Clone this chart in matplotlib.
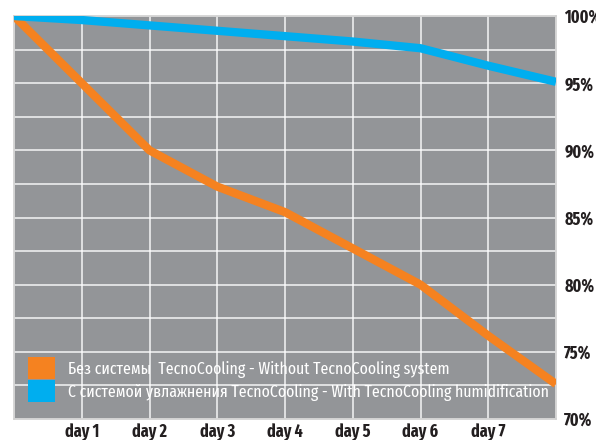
import matplotlib
matplotlib.use("Agg")
import matplotlib.pyplot as plt
from matplotlib.patches import Patch

plt.rcParams['font.family'] = ['Fira Sans Extra Condensed', 'DejaVu Sans']

# data (x = 0 is the start, 8 the end)
steps = [0, 1, 2, 3, 4, 5, 6, 7, 8]
without_tc = [100, 95.0, 90.0, 87.3, 85.4, 82.7, 80.0, 76.2, 72.6]
with_tc = [100, 99.7, 99.3, 98.9, 98.5, 98.1, 97.6, 96.3, 95.1]
day_labels = ['day 1', 'day 2', 'day 3', 'day 4', 'day 5', 'day 6', 'day 7']
pct_ticks = [70, 75, 80, 85, 90, 95, 100]
labels = ['Без системы  TecnoCooling - Without TecnoCooling system',
          'С системой увлажнения TecnoCooling - With TecnoCooling humidification']

orange = '#F58220'
blue = '#00AEEF'

fig = plt.figure(figsize=(5.96, 4.4), dpi=100)
ax = fig.add_axes([14/596, 1 - 419/440, (556 - 14)/596, (419 - 16)/440])
ax.set_facecolor('#939598')

ax.plot(steps, without_tc, color=orange, lw=6, solid_capstyle='butt', zorder=3)
ax.plot(steps, with_tc, color=blue, lw=6, solid_capstyle='butt', zorder=4)

ax.set_xlim(0, 8)
ax.set_ylim(70, 100)

# grid every step / 2.5%
ax.set_xticks(range(0, 9), minor=True)
ax.set_yticks([70 + 2.5 * i for i in range(13)], minor=True)
ax.grid(which='both', color='white', lw=1.1, alpha=0.9)
ax.set_axisbelow(True)

ax.set_xticks(range(1, 8))
ax.set_xticklabels(day_labels, fontsize=12.5, fontweight='bold', color='#231F20')
ax.yaxis.tick_right()
ax.set_yticks(pct_ticks)
ax.set_yticklabels([f'{p}%' for p in pct_ticks], fontsize=12.5, fontweight='bold', color='#231F20')
ax.tick_params(which='both', length=0)
ax.tick_params(axis='y', pad=6)
ax.tick_params(axis='x', pad=3)

for s in ax.spines.values():
    s.set_color('#d0d0d0')
    s.set_linewidth(1.2)

handles = [Patch(facecolor=orange, edgecolor='none'), Patch(facecolor=blue, edgecolor='none')]
leg = ax.legend(handles, labels, loc='lower left', bbox_to_anchor=(0.026, 0.042),
                frameon=False, fontsize=12.4, handlelength=1.57, handleheight=1.57,
                handletextpad=0.75, labelspacing=0.08, borderaxespad=0, borderpad=0)
for t in leg.get_texts():
    t.set_color('white')

fig.savefig('out.png', dpi=100)
